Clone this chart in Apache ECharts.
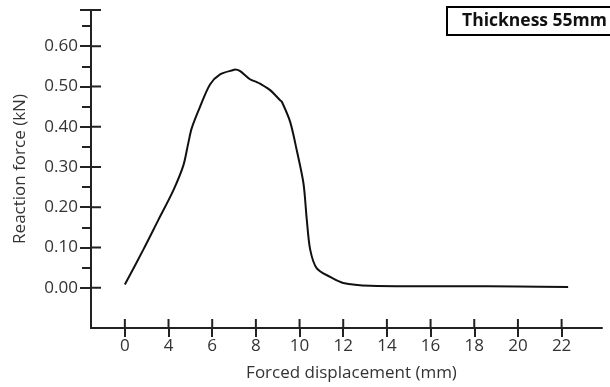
<!DOCTYPE html>
<html>
<head>
<meta charset="utf-8">
<script src="https://cdn.jsdelivr.net/npm/echarts@6/dist/echarts.min.js"></script>
<style>html,body{margin:0;padding:0;background:#fff}#c{width:610px;height:387px}</style>
</head>
<body>
<div id="c"></div>
<script>
// Tick positions on the drawn x scale and the labels printed at them
const xTickPositions = [2, 4, 6, 8, 10, 12, 14, 16, 18, 20, 22];
const xTickLabels = ['0', '4', '6', '8', '10', '12', '14', '16', '18', '20', '22'];
const yTickValues = [0, 0.1, 0.2, 0.3, 0.4, 0.5, 0.6];
const yMinorTicks = [0.05, 0.15, 0.25, 0.35, 0.45, 0.55, 0.65];
const seriesName = 'Thickness 55mm';
// Curve (x in drawn-scale units, y in kN)
const dispX = [2.0, 2.84, 3.53, 4.22, 4.68, 4.90, 5.06, 5.44, 5.90, 6.36, 6.97, 7.05, 7.28, 7.73, 8.04, 8.19, 8.65, 9.11, 9.19, 9.57, 9.87, 10.18, 10.33, 10.49, 10.79, 11.4, 12.0, 13.24, 15.0, 17.2, 20.0, 22.3];
const forceY = [0.008, 0.094, 0.168, 0.242, 0.304, 0.358, 0.396, 0.449, 0.505, 0.530, 0.541, 0.542, 0.538, 0.518, 0.511, 0.507, 0.491, 0.466, 0.462, 0.412, 0.342, 0.259, 0.170, 0.094, 0.048, 0.027, 0.012, 0.005, 0.004, 0.004, 0.003, 0.002];

const data = dispX.map((x, i) => [x, forceY[i]]);
const FONT = '"Open Sans", "Noto Sans", sans-serif';
const AX = '#222';
const TXT = '#333';

const xMin = 0.45, xMax = 23.85, yMin = -0.1, yMax = 0.69;
const lineOn = { show: true, onZero: false, lineStyle: { color: AX, width: 2 } };

const chart = echarts.init(document.getElementById('c'), null, { renderer: 'canvas' });
chart.setOption({
  animation: false,
  backgroundColor: '#fff',
  grid: { left: 91, right: 8, top: 10, bottom: 59, containLabel: false },
  legend: {
    show: true,
    data: [{ name: seriesName, icon: 'none' }],
    left: 447, top: 7,
    itemWidth: 0, itemHeight: 0, itemGap: 0,
    padding: [5, 30, 5, 10],
    borderColor: '#000', borderWidth: 2,
    backgroundColor: '#fff',
    selectedMode: false,
    textStyle: { fontFamily: FONT, fontWeight: 'bold', fontSize: 17.5, color: '#111' }
  },
  xAxis: [{
    type: 'value', min: xMin, max: xMax, interval: 2,
    position: 'bottom',
    splitLine: { show: false },
    axisLine: lineOn,
    name: 'Forced displacement (mm)', nameLocation: 'middle', nameGap: 37,
    nameTextStyle: { fontFamily: FONT, fontSize: 17, color: TXT, padding: [0, 0, 0, 10] },
    axisTick: { show: true, inside: false, length: 9, customValues: xTickPositions, lineStyle: { color: AX, width: 2 } },
    axisLabel: {
      show: true, margin: 10, customValues: xTickPositions,
      fontFamily: FONT, fontSize: 17, color: TXT,
      formatter: v => xTickLabels[xTickPositions.indexOf(Math.round(v))]
    }
  }],
  yAxis: [{
    type: 'value', min: yMin, max: yMax, interval: 0.1,
    position: 'left',
    splitLine: { show: false },
    axisLine: lineOn,
    name: 'Reaction force (kN)', nameLocation: 'middle', nameGap: 62,
    nameTextStyle: { fontFamily: FONT, fontSize: 17, color: TXT },
    axisTick: { show: true, inside: false, length: 11, customValues: yTickValues.concat([yMax]), lineStyle: { color: AX, width: 2 } },
    axisLabel: {
      show: true, margin: 13, customValues: yTickValues,
      fontFamily: FONT, fontSize: 17, color: TXT,
      formatter: v => v.toFixed(2)
    }
  }, {
    type: 'value', min: yMin, max: yMax, interval: 0.1,
    position: 'left',
    splitLine: { show: false },
    axisLine: lineOn,
    axisLabel: { show: false },
    axisTick: { show: true, inside: false, length: 9, customValues: yMinorTicks, lineStyle: { color: AX, width: 2 } }
  }],
  series: [{
    name: seriesName,
    type: 'line',
    xAxisIndex: 0, yAxisIndex: 0,
    data: data,
    smooth: 0.3,
    showSymbol: false,
    lineStyle: { color: '#111', width: 2 },
    itemStyle: { color: '#111' }
  }]
});

// Inner halves of the crossing major ticks, placed through the chart's own axis scales
const innerTicks = [];
xTickPositions.forEach(v => {
  const p = chart.convertToPixel({ gridIndex: 0 }, [v, yMin]);
  innerTicks.push({ type: 'line', silent: true, z: 10,
    shape: { x1: p[0], y1: p[1], x2: p[0], y2: p[1] - 9 },
    style: { stroke: AX, lineWidth: 2 } });
});
yTickValues.concat([yMax]).forEach(v => {
  const p = chart.convertToPixel({ gridIndex: 0 }, [xMin, v]);
  innerTicks.push({ type: 'line', silent: true, z: 10,
    shape: { x1: p[0], y1: p[1], x2: p[0] + 10, y2: p[1] },
    style: { stroke: AX, lineWidth: 2 } });
});
chart.setOption({ graphic: innerTicks });
</script>
</body>
</html>
